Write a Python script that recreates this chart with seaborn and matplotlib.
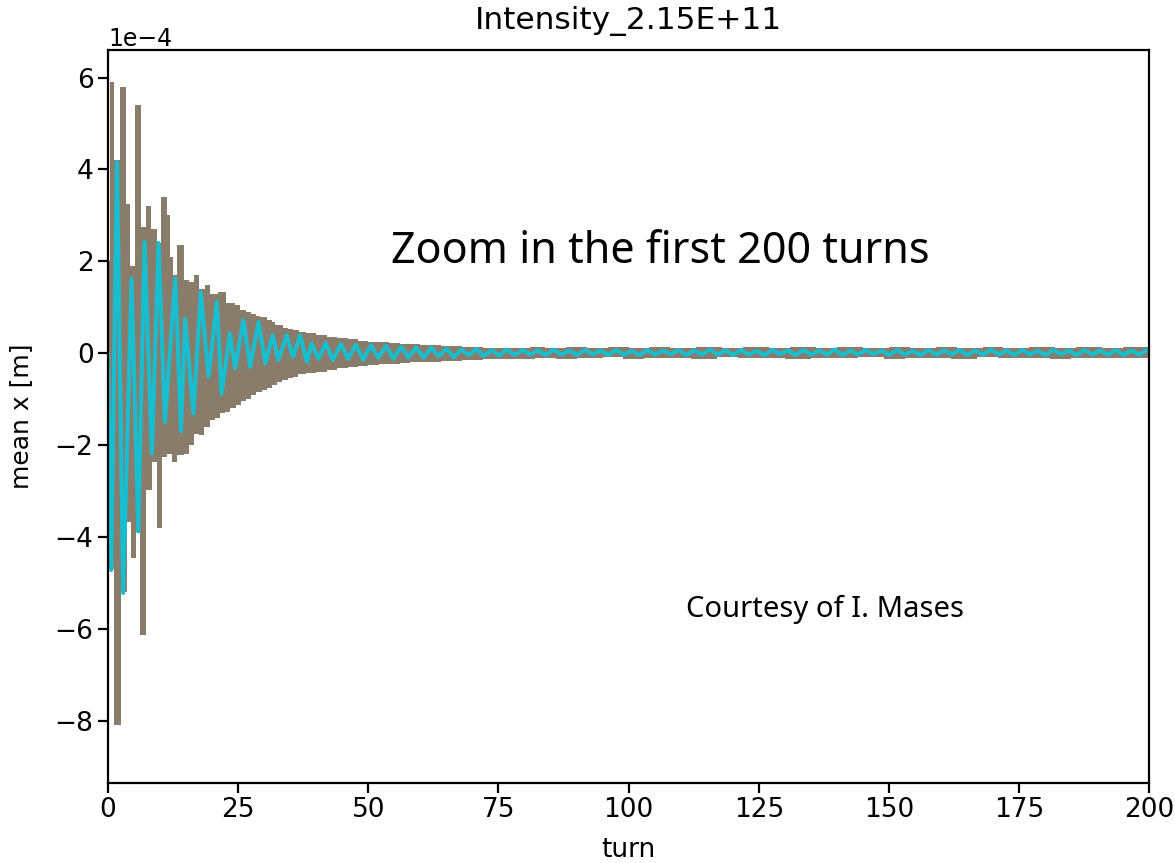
import matplotlib
matplotlib.use("Agg")
import matplotlib.pyplot as plt
import pandas as pd
import seaborn as sns

SCALE = 1e-4  # values below are in units of 1e-4 m

# upper edge of the overlapping-bunch band (step starts, value)
upper_turn = [0.0, 0.4, 1.2, 2.3, 3.4, 4.2, 5.1, 6.3, 7.2, 8.3, 9.4, 10.2, 11.3, 11.9,
              12.5, 13.2, 14.5, 15.5, 16.5, 17.5, 18.6, 19.6, 21.1, 22.7, 24.4, 25.4,
              26.5, 27.5, 28.5, 29.2, 30.5, 31.5, 32.1, 33.6, 34.6, 35.6, 36.6, 38,
              40, 42, 44, 46, 48, 50, 52, 54, 56, 58, 60, 62, 64, 66, 68, 70, 72, 74,
              76, 78, 81, 84, 88, 92, 96, 100, 104, 108, 113, 118, 122, 127, 131, 136,
              140, 145, 150, 154, 159, 163, 168, 172, 177, 182, 186, 191, 195, 200]
upper_val = [2.0, 5.9, 4.2, 5.8, 3.25, 1.9, 5.4, 2.75, 3.2, 2.7, 2.4, 3.4, 3.0, 2.1,
             1.7, 2.35, 1.6, 1.55, 1.7, 1.4, 1.48, 1.3, 1.33, 1.1, 1.04, 0.95,
             0.9, 0.85, 0.8, 0.79, 0.72, 0.68, 0.61, 0.55, 0.52, 0.5, 0.46, 0.44,
             0.4, 0.36, 0.33, 0.3, 0.27, 0.25, 0.24, 0.22, 0.21, 0.2, 0.18, 0.17, 0.16,
             0.15, 0.14, 0.13, 0.12, 0.11, 0.11, 0.12, 0.14, 0.11, 0.13, 0.12, 0.14,
             0.11, 0.13, 0.12, 0.14, 0.12, 0.13, 0.11, 0.14, 0.12, 0.13, 0.12, 0.14,
             0.11, 0.13, 0.12, 0.14, 0.12, 0.13, 0.11, 0.14, 0.12, 0.13, 0.13]

# lower edge of the band
lower_turn = [0.0, 1.2, 2.5, 3.6, 4.4, 5.3, 6.15, 7.2, 8.4, 9.35, 10.3, 11.3, 12.2,
              13.2, 14.5, 15.5, 16.5, 17.5, 18.5, 19.5, 20.5, 21.5, 22.5, 23.5, 24.5,
              25.5, 26.5, 27.5, 28.5, 29.5, 30.5, 31.5, 32.5, 33.5, 34.5, 35.5, 36.5,
              38, 40, 42, 44, 46, 48, 50, 52, 54, 56, 58, 60, 62, 64, 66, 68, 70, 72,
              74, 76, 78, 82, 86, 90, 95, 99, 103, 108, 112, 117, 121, 126, 130, 135,
              139, 144, 149, 153, 158, 162, 167, 171, 176, 181, 185, 190, 194, 200]
lower_val = [-4.7, -8.1, -5.2, -3.67, -4.46, -3.9, -6.13, -2.98, -2.36, -3.81, -2.25,
             -2.2, -2.36, -2.22, -2.2, -2.0, -1.75, -1.78, -1.6, -1.46, -1.4, -1.3,
             -1.28, -1.2, -1.13, -1.05, -1.0, -0.9, -0.84, -0.8, -0.75, -0.7, -0.62,
             -0.59, -0.55, -0.51, -0.46, -0.44, -0.4, -0.36, -0.33, -0.3, -0.27,
             -0.26, -0.24, -0.23, -0.22, -0.2, -0.19, -0.19, -0.17, -0.16, -0.15,
             -0.14, -0.13, -0.12, -0.12, -0.12, -0.1, -0.12, -0.11, -0.09, -0.12,
             -0.1, -0.11, -0.12, -0.09, -0.11, -0.1, -0.12, -0.1, -0.11, -0.09,
             -0.12, -0.1, -0.11, -0.12, -0.09, -0.11, -0.1, -0.12, -0.1, -0.11,
             -0.1, -0.11]

# last bunch (cyan), turning points of the oscillation
cyan_turn = [0.0, 0.6, 1.7, 2.9, 4.5, 5.8, 7.0, 8.4, 9.7, 10.9, 12.9, 14.0, 14.8,
             16.4, 17.8, 19.3, 20.9, 21.8, 23.4, 24.4, 26.0, 27.3, 28.9, 30.2, 31.6,
             32.7, 34.3, 35.5, 36.9, 38.2, 39.1, 40.4, 41.8, 43.2, 44.7, 46.1, 47.6,
             49.0, 50.5, 51.9, 53.4, 54.8, 56.3, 57.7, 59.2, 60.6, 62.1, 63.5, 65.0,
             66.4, 67.9, 69.3, 70.8, 72.2, 73.7, 75.1, 76.6, 78.1, 79.6, 81.1, 82.6,
             84.1, 85.6, 87.1, 88.6, 90.1, 91.6, 93.1, 94.6, 96.1, 97.6, 99.1, 100.6,
             102.1, 103.6, 105.1, 106.6, 108.1, 109.6, 111.1, 112.6, 114.1, 115.6,
             117.1, 118.6, 120.1, 121.6, 123.1, 124.6, 126.1, 127.6, 129.1, 130.6,
             132.1, 133.6, 135.1, 136.6, 138.1, 139.6, 141.1, 142.6, 144.1, 145.6,
             147.1, 148.6, 150.1, 151.6, 153.1, 154.6, 156.1, 157.6, 159.1, 160.6,
             162.1, 163.6, 165.1, 166.6, 168.1, 169.6, 171.1, 172.6, 174.1, 175.6,
             177.1, 178.6, 180.1, 181.6, 183.1, 184.6, 186.1, 187.6, 189.1, 190.6,
             192.1, 193.6, 195.1, 196.6, 198.1, 199.6, 200.0]
cyan_val = [0.0, -4.72, 4.16, -5.22, 1.63, -3.88, 2.42, -2.18, 2.4, -1.49, 1.63, -1.7,
            0.75, -1.31, 1.33, -0.51, 1.12, -0.88, 0.43, -0.33, 0.72, -0.3, 0.68,
            -0.22, 0.39, -0.15, 0.39, -0.08, 0.39, -0.19, 0.21, -0.12, 0.22, -0.15,
            0.2, -0.12, 0.18, -0.14, 0.17, -0.1, 0.16, -0.12, 0.14, -0.09, 0.13,
            -0.1, 0.12, -0.07, 0.1, -0.09, 0.08, -0.04, 0.09, -0.06, 0.07, -0.05,
            0.08, -0.04, 0.07, -0.03, 0.06, -0.04, 0.08, -0.03, 0.06, -0.04, 0.07,
            -0.02, 0.06, -0.04, 0.07, -0.03, 0.05, -0.04, 0.07, -0.03, 0.06, -0.02,
            0.07, -0.04, 0.06, -0.03, 0.08, -0.03, 0.06, -0.04, 0.07, -0.03, 0.05,
            -0.04, 0.07, -0.02, 0.06, -0.04, 0.07, -0.03, 0.06, -0.03, 0.08, -0.04,
            0.06, -0.03, 0.07, -0.02, 0.06, -0.04, 0.07, -0.03, 0.05, -0.04, 0.07,
            -0.03, 0.06, -0.02, 0.07, -0.04, 0.06, -0.03, 0.08, -0.03, 0.06, -0.04,
            0.07, -0.03, 0.05, -0.04, 0.07, -0.02, 0.06, -0.04, 0.07, -0.03, 0.06,
            -0.03, 0.07, -0.04, 0.06, -0.03, 0.07, 0.02]

TITLE = "Intensity_2.15E+11"
NOTE = "Zoom in the first 200 turns"
CREDIT = "Courtesy of I. Mases"

sns.set_theme(style="ticks", rc={
    "axes.linewidth": 1.6,
    "axes.edgecolor": "black",
    "xtick.major.width": 1.6,
    "ytick.major.width": 1.6,
    "xtick.major.size": 7,
    "ytick.major.size": 7,
    "xtick.color": "black",
    "ytick.color": "black",
    "text.color": "black",
    "axes.labelcolor": "black",
})
plt.rcParams["font.family"] = ["DejaVu Sans"]

fig = plt.figure(figsize=(11.75, 8.63), dpi=100)
ax = fig.add_axes([0.092, 0.093, 0.886, 0.849])

band = "#8a7c6b"
up = pd.DataFrame({"turn": upper_turn, "x": [v * SCALE for v in upper_val]})
lo = pd.DataFrame({"turn": lower_turn, "x": [v * SCALE for v in lower_val]})
ax.fill_between(up["turn"], 0, up["x"], step="post", color=band, lw=0)
ax.fill_between(lo["turn"], lo["x"], 0, step="post", color=band, lw=0)

cyan = pd.DataFrame({"turn": cyan_turn, "mean_x": [v * SCALE for v in cyan_val]})
sns.lineplot(data=cyan, x="turn", y="mean_x", color="#17becf", lw=2.9,
             sort=False, estimator=None, ax=ax)

ax.set_xlim(0, 200)
ax.set_ylim(-9.35e-4, 6.6e-4)
ax.set_xticks([0, 25, 50, 75, 100, 125, 150, 175, 200])
ax.set_yticks([-8e-4, -6e-4, -4e-4, -2e-4, 0, 2e-4, 4e-4, 6e-4])
ax.ticklabel_format(axis="y", style="sci", scilimits=(0, 0))
ax.tick_params(labelsize=19)
ax.yaxis.get_offset_text().set_fontsize(17)
ax.set_xlabel("turn", fontsize=19, labelpad=10)
ax.set_ylabel("mean x [m]", fontsize=18)
ax.yaxis.set_label_coords(-0.072, 0.5)
ax.set_title(TITLE, fontsize=22.5, pad=15)

ax.text(0.53, 0.725, NOTE, transform=ax.transAxes, ha="center", va="center",
        fontsize=31, family=["Noto Sans", "DejaVu Sans"])
ax.text(0.689, 0.236, CREDIT, transform=ax.transAxes, ha="center", va="center",
        fontsize=21, family=["Noto Sans", "DejaVu Sans"])

fig.savefig("out.png", dpi=100)
